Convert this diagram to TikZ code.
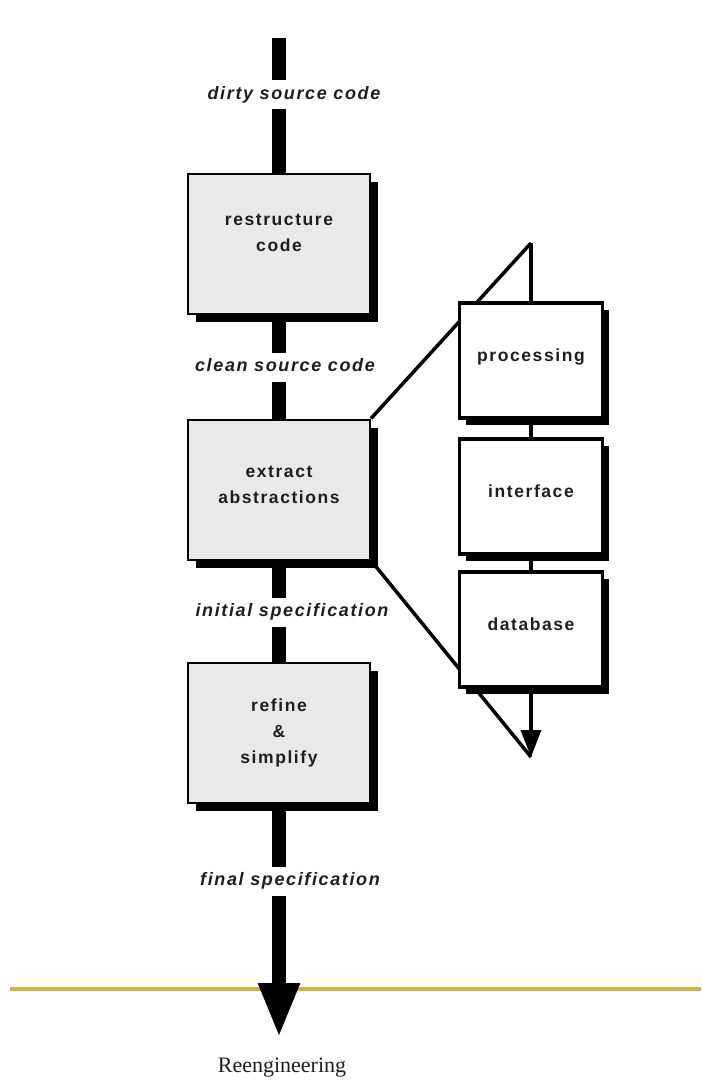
\documentclass[tikz,border=0pt]{standalone}
\usepackage{fontspec}
\setmainfont{Liberation Serif}
\newfontfamily\lblfont[LetterSpace=9]{Liberation Sans}
\usetikzlibrary{shadows,arrows.meta,calc}
\pgfdeclarelayer{bg}
\pgfsetlayers{bg,main}
\definecolor{boxgray}{HTML}{E9E9E9}
\definecolor{gold}{HTML}{D6B13C}
\definecolor{ink}{HTML}{1E1E1E}
\begin{document}
\begin{tikzpicture}[x=1pt,y=-1pt,
  mainbox/.style={draw=black, line width=2pt, fill=boxgray, minimum width=182pt, minimum height=140pt,
    drop shadow={shadow xshift=8pt, shadow yshift=-8pt, fill=black, opacity=1},
    align=center, text=ink, inner sep=0pt, font=\lblfont\bfseries\fontsize{17.5}{26}\selectfont},
  subbox/.style={draw=black, line width=3.5pt, fill=white, minimum width=143pt, minimum height=115pt,
    drop shadow={shadow xshift=6pt, shadow yshift=-7pt, fill=black, opacity=1},
    align=center, text=ink, inner sep=0pt, text depth=10pt, font=\lblfont\bfseries\fontsize{17.5}{26}\selectfont},
  flow/.style={line width=14pt, black},
  thinflow/.style={line width=3.5pt, black},
  lbl/.style={fill=white, inner xsep=4pt, inner ysep=6pt, text height=13pt, text depth=4pt, text=ink,
    font=\lblfont\bfseries\itshape\fontsize{18}{20}\selectfont}]
\useasboundingbox (0,0) rectangle (701,1086);

% boxes
\node[mainbox, text depth=22pt] (box1) at (279,244) {restructure\\code};
\node[mainbox, text depth=9pt] (box2) at (279,489.5) {extract\\abstractions};
\node[mainbox] (box3) at (279,733) {refine\\\&\\simplify};

\node[subbox] (proc) at (531,360.5) {processing};
\node[subbox] (inter) at (531,496.5) {interface};
\node[subbox] (db) at (531,629.5) {database};

\coordinate (top) at (279,38);
\coordinate (tip) at (279,1038);
\coordinate (rtop) at (531,243);
\coordinate (rtip) at (531,757);
\coordinate (gl) at (10,989);
\coordinate (gr) at (701,989);

\begin{pgfonlayer}{bg}
  \draw[gold, line width=4pt] (gl) -- (gr);
  \draw[flow] (top) -- (box1.north);
  \draw[flow] (box1.south) -- (box2.north);
  \draw[flow] (box2.south) -- (box3.north);
  \draw[flow, -{Triangle[width=38pt,length=55pt]}] (box3.south) -- (tip);
  \draw[thinflow] (rtop) -- (proc.north);
  \draw[thinflow] (proc.south) -- (inter.north);
  \draw[thinflow] (inter.south) -- (db.north);
  \draw[thinflow, -{Triangle[width=20pt,length=27pt]}] (db.south) -- (rtip);
  \draw[thinflow] (box2.north east) -- (rtop);
  \draw[thinflow] (box2.south east) -- (rtip);
\end{pgfonlayer}

% labels
\node[lbl] (l1) at (294,95) {dirty source code};
\node[lbl] (l2) at (285,367) {clean source code};
\node[lbl] (l3) at (292,612) {initial specification};
\node[lbl] (l4) at (290,881) {final specification};
\node[text=ink, font=\fontsize{22}{24}\selectfont] (reeng) at (282,1068) {Reengineering};
\end{tikzpicture}
\end{document}
